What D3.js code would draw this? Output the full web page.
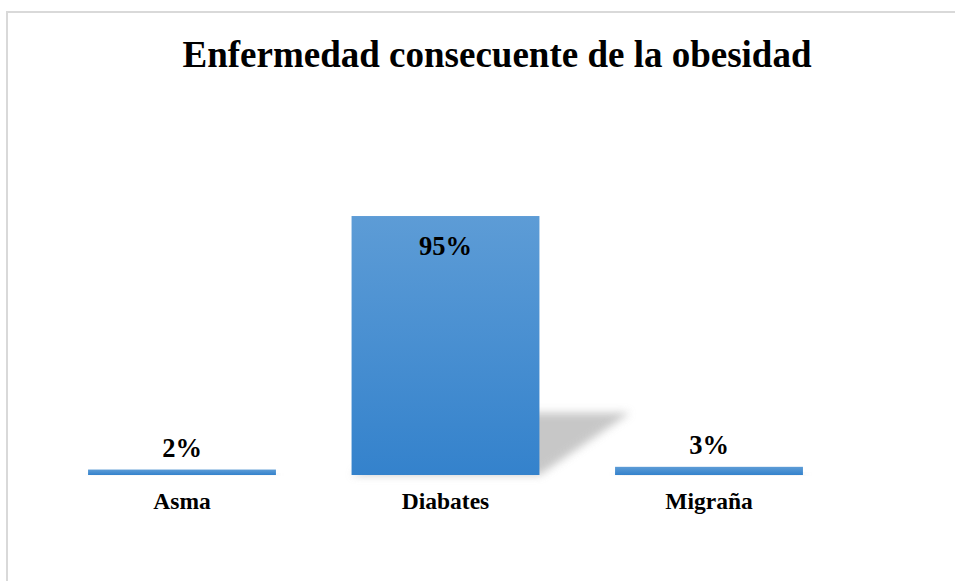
<!DOCTYPE html>
<html>
<head>
<meta charset="utf-8">
<script src="https://cdn.jsdelivr.net/npm/d3@7"></script>
<style>
  body { margin: 0; background: #fff; }
  svg { display: block; }
</style>
</head>
<body>
<svg id="chart"></svg>
<script>
var categories = ["Asma", "Diabates", "Migraña"];
var values = [2, 95, 3];
var valueLabels = ["2%", "95%", "3%"];
var title = "Enfermedad consecuente de la obesidad";

var width = 955,
    height = 581;

var svg = d3.select("#chart")
  .attr("width", width)
  .attr("height", height);

// chart area border (runs off the right and bottom edge)
svg.append("rect")
  .attr("x", 7)
  .attr("y", 12)
  .attr("width", 960)
  .attr("height", 600)
  .attr("fill", "#fff")
  .attr("stroke", "#d9d9d9")
  .attr("stroke-width", 2);

var defs = svg.append("defs");
var grad = defs.append("linearGradient")
  .attr("id", "barGrad")
  .attr("x1", 0).attr("y1", 0)
  .attr("x2", 0).attr("y2", 1);
grad.append("stop").attr("offset", "0%").attr("stop-color", "#5d9cd6");
grad.append("stop").attr("offset", "100%").attr("stop-color", "#3482cc");

defs.append("filter")
  .attr("id", "blur")
  .attr("x", "-20%").attr("y", "-20%")
  .attr("width", "140%").attr("height", "140%")
  .append("feGaussianBlur")
  .attr("stdDeviation", 4.5);

var x = d3.scaleBand()
  .domain(categories)
  .range([50.25, 840.75])
  .paddingInner(0.287)
  .paddingOuter(0.1435);

var y = d3.scaleLinear()
  .domain([0, 100])
  .range([475, 202.4]);

var data = categories.map(function(c, i) {
  return { name: c, value: values[i], label: valueLabels[i] };
});

var font = "'Liberation Serif', 'Times New Roman', serif";

// perspective shadow behind the bars
svg.append("g")
  .selectAll("path")
  .data(data)
  .enter()
  .append("path")
  .attr("d", function(d) {
    var x0 = x(d.name), x1 = x0 + x.bandwidth();
    var h = y(0) - y(d.value);
    var dx = h * 0.35, dy = h * 0.24;
    return "M" + x0 + "," + y(0) + "L" + x1 + "," + y(0) +
      "L" + (x1 + dx) + "," + (y(0) - dy) + "L" + (x0 + dx) + "," + (y(0) - dy) + "Z";
  })
  .attr("fill", "#b0b0b0")
  .attr("opacity", 0.7)
  .attr("filter", "url(#blur)");

svg.append("g")
  .selectAll("rect")
  .data(data)
  .enter()
  .append("rect")
  .attr("x", function(d) { return x(d.name); })
  .attr("y", function(d) { return y(d.value); })
  .attr("width", x.bandwidth())
  .attr("height", function(d) { return y(0) - y(d.value); })
  .attr("fill", "url(#barGrad)");

svg.append("g")
  .selectAll("text")
  .data(data)
  .enter()
  .append("text")
  .attr("x", function(d) { return x(d.name) + x.bandwidth() / 2; })
  .attr("y", function(d) {
    return d.value > 50 ? y(d.value) + 39 : y(d.value) - 13;
  })
  .attr("text-anchor", "middle")
  .style("font-family", font)
  .style("font-weight", "bold")
  .style("font-size", "26.5px")
  .text(function(d) { return d.label; });

svg.append("g")
  .selectAll("text")
  .data(data)
  .enter()
  .append("text")
  .attr("x", function(d) { return x(d.name) + x.bandwidth() / 2; })
  .attr("y", 508.5)
  .attr("text-anchor", "middle")
  .style("font-family", font)
  .style("font-weight", "bold")
  .style("font-size", "23.5px")
  .text(function(d) { return d.name; });

svg.append("text")
  .attr("x", 497)
  .attr("y", 67)
  .attr("text-anchor", "middle")
  .style("font-family", font)
  .style("font-weight", "bold")
  .style("font-size", "37px")
  .text(title);
</script>
</body>
</html>
